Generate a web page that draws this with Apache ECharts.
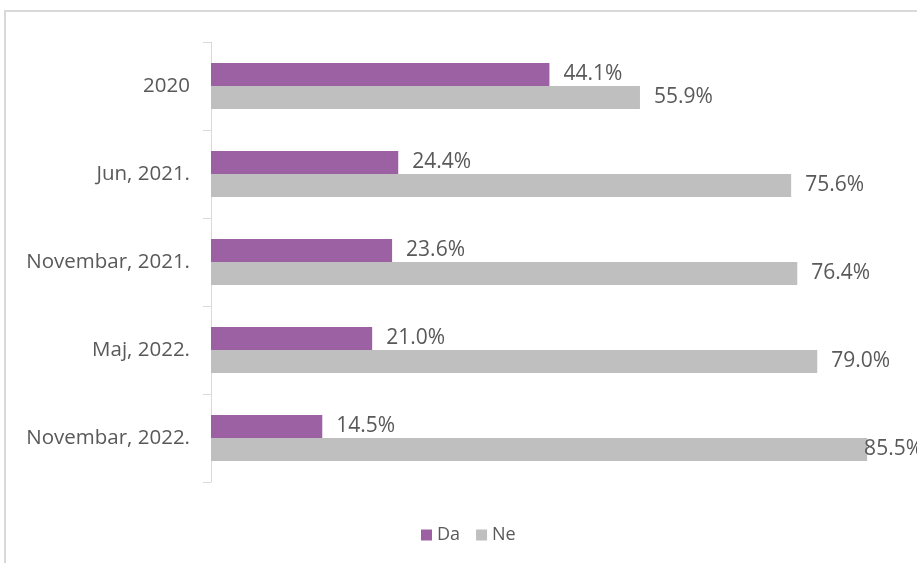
<!DOCTYPE html>
<html>
<head>
<meta charset="utf-8">
<script src="https://cdn.jsdelivr.net/npm/echarts@6/dist/echarts.min.js"></script>
<style>
  html, body { margin: 0; padding: 0; background: #fff; }
  #main { width: 917px; height: 563px; }
</style>
</head>
<body>
<div id="main"></div>
<script>
// 데이터
var categories = ['2020', 'Jun, 2021.', 'Novembar, 2021.', 'Maj, 2022.', 'Novembar, 2022.'];
var daValues = [44.1, 24.4, 23.6, 21.0, 14.5];
var neValues = [55.9, 75.6, 76.4, 79.0, 85.5];
var seriesNames = ['Da', 'Ne'];

var chartDom = document.getElementById('main');
var myChart = echarts.init(chartDom);
var font = '"Open Sans", "Noto Sans", sans-serif';
var textColor = '#595959';

function pct(p) {
  return p.value.toFixed(1) + '%';
}

// the last label is pulled back over the bar end, like in the original
var neData = neValues.map(function (v, i) {
  if (i === neValues.length - 1) {
    return { value: v, label: { distance: -3 } };
  }
  return v;
});

var option = {
  animation: false,
  textStyle: { fontFamily: font },
  graphic: [
    {
      type: 'rect',
      z: -1,
      shape: { x: 5, y: 11, width: 1000, height: 700 },
      style: { fill: 'none', stroke: '#D9D9D9', lineWidth: 2 }
    }
  ],
  legend: {
    data: seriesNames,
    left: 421,
    top: 526,
    padding: 0,
    icon: 'rect',
    itemWidth: 11,
    itemHeight: 11,
    itemGap: 16,
    textStyle: { fontSize: 18, color: textColor, fontFamily: font }
  },
  grid: {
    left: 211,
    top: 42,
    height: 440,
    right: 0
  },
  xAxis: {
    type: 'value',
    min: 0,
    max: 92,   // plot runs off the right edge in the original
    show: false
  },
  yAxis: {
    type: 'category',
    inverse: true,
    data: categories,
    axisLine: { lineStyle: { color: '#D9D9D9', width: 1 } },
    axisTick: { show: true, length: 8, lineStyle: { color: '#D9D9D9' } },
    axisLabel: { margin: 21, fontSize: 20.5, color: textColor, fontFamily: font }
  },
  series: [
    {
      name: seriesNames[0],
      type: 'bar',
      data: daValues,
      barWidth: 23,
      barGap: '0%',
      itemStyle: { color: '#9C61A3' },
      label: {
        show: true,
        position: 'right',
        distance: 14,
        formatter: pct,
        fontSize: 21,
        color: textColor,
        fontFamily: font
      }
    },
    {
      name: seriesNames[1],
      type: 'bar',
      data: neData,
      barWidth: 23,
      barGap: '0%',
      itemStyle: { color: '#BFBFBF' },
      label: {
        show: true,
        position: 'right',
        distance: 14,
        formatter: pct,
        fontSize: 21,
        color: textColor,
        fontFamily: font
      }
    }
  ]
};

option && myChart.setOption(option);
</script>
</body>
</html>
